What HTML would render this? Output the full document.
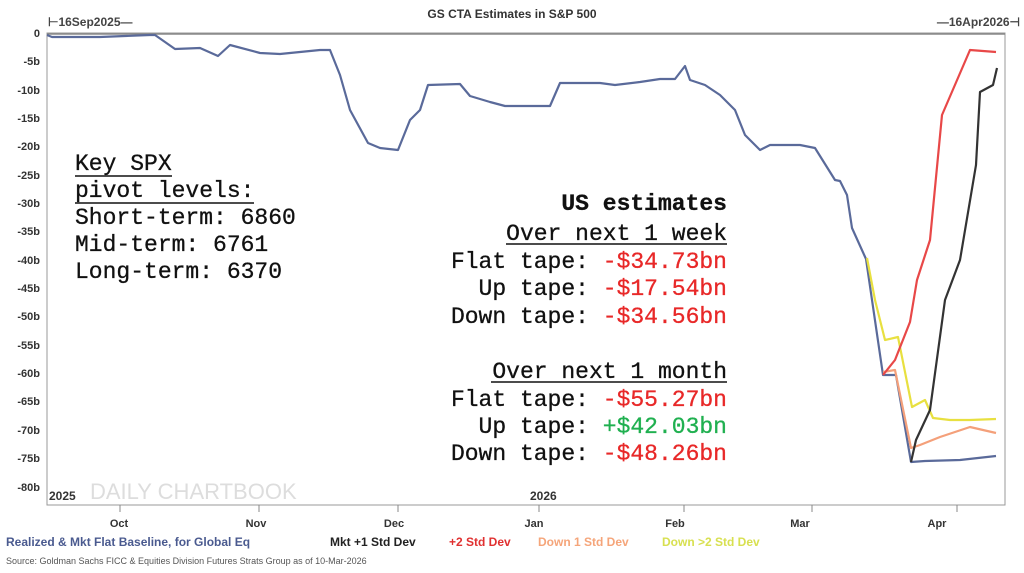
<!DOCTYPE html>
<html><head><meta charset="utf-8"><style>
html,body{margin:0;padding:0;background:#fff;}
svg{display:block;font-family:"Liberation Sans",Arial,sans-serif;}
.m{font-family:"Liberation Mono",monospace;font-size:23px;fill:#111;stroke:#111;stroke-width:0.3;}
.t{font-size:11px;fill:#333;font-weight:bold;}
</style></head><body>
<svg width="1024" height="573" viewBox="0 0 1024 573" xmlns="http://www.w3.org/2000/svg">
<rect width="1024" height="573" fill="#fff"/>
<rect x="47" y="33" width="958" height="472" fill="#fff" stroke="#999" stroke-width="1"/>
<line x1="47" y1="34" x2="1005" y2="34" stroke="#888" stroke-width="1.5"/>
<text x="512" y="18" text-anchor="middle" font-size="12" font-weight="bold" fill="#333">GS CTA Estimates in S&amp;P 500</text>
<text x="48" y="26" font-size="12" font-weight="bold" fill="#444">⊢16Sep2025—</text>
<text x="1020" y="26" text-anchor="end" font-size="12" font-weight="bold" fill="#444">—16Apr2026⊣</text>
<g class="t" text-anchor="end">
<text x="40" y="37">0</text><text x="40" y="65">-5b</text><text x="40" y="94">-10b</text><text x="40" y="122">-15b</text>
<text x="40" y="150">-20b</text><text x="40" y="179">-25b</text><text x="40" y="207">-30b</text><text x="40" y="235">-35b</text>
<text x="40" y="264">-40b</text><text x="40" y="292">-45b</text><text x="40" y="320">-50b</text><text x="40" y="349">-55b</text>
<text x="40" y="377">-60b</text><text x="40" y="405">-65b</text><text x="40" y="434">-70b</text><text x="40" y="462">-75b</text>
<text x="40" y="491">-80b</text>
</g>
<text x="49" y="500" font-size="12" font-weight="bold" fill="#333">2025</text>
<text x="530" y="500" font-size="12" font-weight="bold" fill="#333">2026</text>
<text x="90" y="499" font-size="22" fill="#ddd">DAILY CHARTBOOK</text>
<g stroke="#888" stroke-width="1">
<line x1="120" y1="505" x2="120" y2="512"/><line x1="259" y1="505" x2="259" y2="512"/><line x1="398" y1="505" x2="398" y2="512"/>
<line x1="539" y1="505" x2="539" y2="512"/><line x1="684" y1="505" x2="684" y2="512"/><line x1="812" y1="505" x2="812" y2="512"/><line x1="957" y1="505" x2="957" y2="512"/>
</g>
<g class="t" text-anchor="middle" font-size="12">
<text x="119" y="527">Oct</text><text x="256" y="527">Nov</text><text x="394" y="527">Dec</text><text x="534" y="527">Jan</text>
<text x="675" y="527">Feb</text><text x="800" y="527">Mar</text><text x="937" y="527">Apr</text>
</g>
<g font-size="12" font-weight="bold">
<text x="6" y="546" fill="#4a5a8f">Realized &amp; Mkt Flat Baseline, for Global Eq</text>
<text x="330" y="546" fill="#222">Mkt +1 Std Dev</text>
<text x="449" y="546" fill="#e03030">+2 Std Dev</text>
<text x="538" y="546" fill="#f5a57a">Down 1 Std Dev</text>
<text x="662" y="546" fill="#d8e050">Down &gt;2 Std Dev</text>
</g>
<text x="6" y="564" font-size="9" fill="#555">Source: Goldman Sachs FICC &amp; Equities Division Futures Strats Group as of 10-Mar-2026</text>
<g fill="none" stroke-width="2.2" stroke-linejoin="round">
<polyline stroke="#5a6a9a" points="47,35 52,37 100,37 150,35 155,35 175,49 200,48 218,56 230,45 260,53 280,54 320,50 330,50 340,75 350,110 368,143 380,148 398,150 410,120 420,110 428,85 460,84 470,96 490,102 505,106 550,106 560,83 600,83 615,85 640,82 660,79 675,79 685,66 690,80 705,85 720,95 735,110 745,135 760,150 770,145 800,145 815,148 835,180 840,181 847,195 852,228 866,259 883,375 896,375 911,462 925,461 960,460 996,456"/>
<polyline stroke="#e8e040" points="867,258 875,300 885,340 898,337 912,407 925,400 933,418 950,420 970,420 996,419"/>
<polyline stroke="#f4a07a" points="883,372 895,370 911,448 920,445 940,437 970,427 996,433"/>
<polyline stroke="#e84848" points="883,375 895,360 910,322 917,280 930,240 942,115 970,50 996,52"/>
<polyline stroke="#333" points="911,462 916,440 930,410 945,300 960,260 976,165 980,92 993,85 997,68"/>
</g>
<g class="m">
<text x="75" y="170">Key SPX</text>
<text x="75" y="197">pivot levels:</text>
<text x="75" y="224">Short-term: 6860</text>
<text x="75" y="251">Mid-term: 6761</text>
<text x="75" y="278">Long-term: 6370</text>
</g>
<line x1="75" y1="176" x2="172" y2="176" stroke="#111" stroke-width="1.5"/>
<line x1="75" y1="203" x2="254" y2="203" stroke="#111" stroke-width="1.5"/>
<g class="m" text-anchor="end">
<text x="727" y="210" font-weight="bold">US estimates</text>
<text x="727" y="240">Over next 1 week</text>
<text x="727" y="268">Flat tape: <tspan fill="#e82828" stroke="#e82828">-$34.73bn</tspan></text>
<text x="727" y="295">Up tape: <tspan fill="#e82828" stroke="#e82828">-$17.54bn</tspan></text>
<text x="727" y="323">Down tape: <tspan fill="#e82828" stroke="#e82828">-$34.56bn</tspan></text>
<text x="727" y="378">Over next 1 month</text>
<text x="727" y="406">Flat tape: <tspan fill="#e82828" stroke="#e82828">-$55.27bn</tspan></text>
<text x="727" y="433">Up tape: <tspan fill="#20b050" stroke="#20b050">+$42.03bn</tspan></text>
<text x="727" y="460">Down tape: <tspan fill="#e82828" stroke="#e82828">-$48.26bn</tspan></text>
</g>
<line x1="506" y1="244" x2="727" y2="244" stroke="#111" stroke-width="1.5"/>
<line x1="491" y1="382" x2="727" y2="382" stroke="#111" stroke-width="1.5"/>
</svg>
</body></html>
